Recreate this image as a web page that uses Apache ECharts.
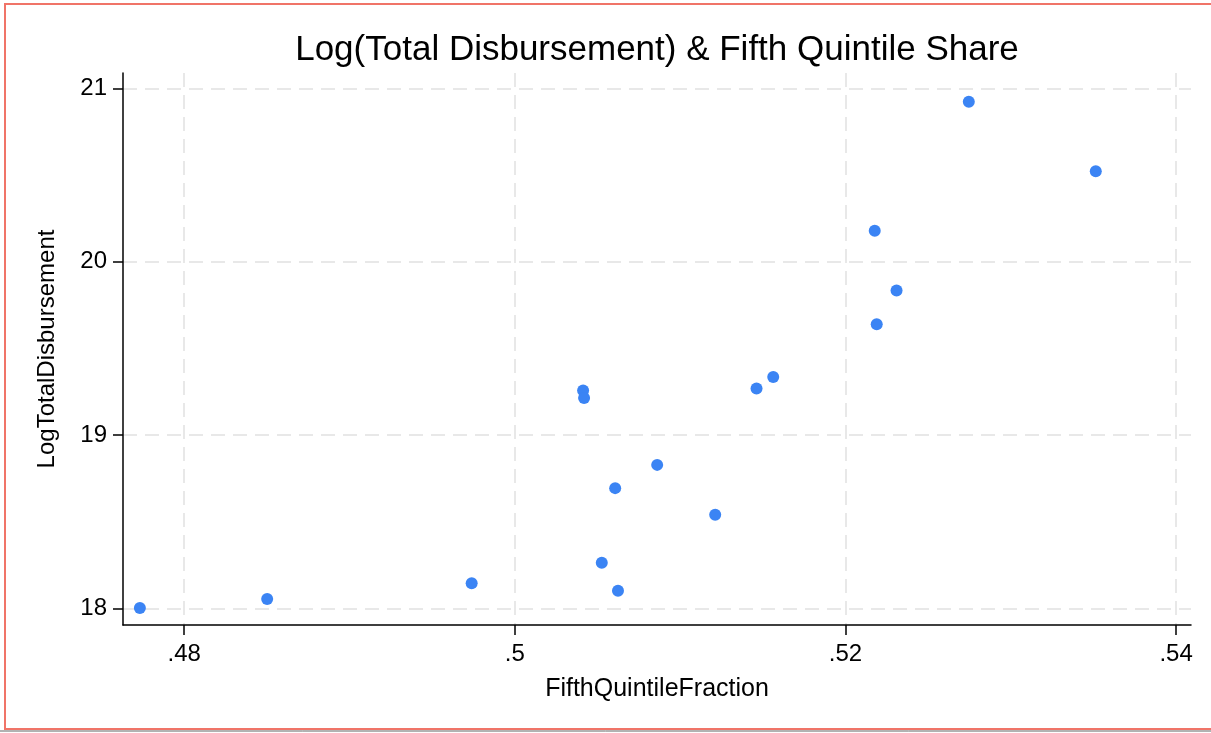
<!DOCTYPE html>
<html>
<head>
<meta charset="utf-8">
<script src="https://cdn.jsdelivr.net/npm/echarts@6/dist/echarts.min.js"></script>
<style>
  html, body { margin: 0; padding: 0; background: #ffffff; }
  #chart { width: 1211px; height: 733px; }
</style>
</head>
<body>
<div id="chart"></div>
<script>
// ---- data ----
const fifthQuintileFraction = [0.47732, 0.48502, 0.49739, 0.50624, 0.50526, 0.51212, 0.50607, 0.50861, 0.50413, 0.50419, 0.51462, 0.51563, 0.52746, 0.53514, 0.52177, 0.52309, 0.52189];
const logTotalDisbursement = [18.004, 18.056, 18.147, 18.104, 18.265, 18.541, 18.695, 18.829, 19.258, 19.214, 19.269, 19.335, 20.922, 20.521, 20.179, 19.834, 19.640];
const xTicks = [0.48, 0.50, 0.52, 0.54];
const xTickLabels = ['.48', '.5', '.52', '.54'];
const yTicks = [18, 19, 20, 21];
const yTickLabels = ['18', '19', '20', '21'];
const titleText = 'Log(Total Disbursement) & Fifth Quintile Share';
const xName = 'FifthQuintileFraction';
const yName = 'LogTotalDisbursement';

const points = fifthQuintileFraction.map((x, i) => [x, logTotalDisbursement[i]]);
const FONT = '"Liberation Sans", Arial, Helvetica, sans-serif';

const chart = echarts.init(document.getElementById('chart'), null, { renderer: 'canvas' });
const gridStyle = { show: true, lineStyle: { color: '#e8e8e8', width: 2, type: [14, 8] } };

chart.setOption({
  animation: false,
  backgroundColor: '#ffffff',
  title: {
    text: titleText,
    left: 657,
    top: 33,
    padding: 0,
    textAlign: 'center',
    textStyle: { fontFamily: FONT, fontSize: 35, fontWeight: 'normal', color: '#000' }
  },
  grid: { left: 123, right: 20, top: 73, bottom: 108, containLabel: false },
  xAxis: {
    type: 'value',
    min: 0.4763,
    max: 0.5409,
    name: xName,
    nameLocation: 'middle',
    nameGap: 52,
    nameTextStyle: { fontFamily: FONT, fontSize: 25, color: '#000', verticalAlign: 'top' },
    axisLine: { show: true, onZero: false, lineStyle: { color: '#000', width: 1.5 } },
    axisTick: { show: true, length: 10, customValues: xTicks, lineStyle: { color: '#000', width: 1.5 } },
    axisLabel: {
      customValues: xTicks,
      margin: 17,
      fontFamily: FONT, fontSize: 24, color: '#000',
      formatter: v => { const i = xTicks.findIndex(t => Math.abs(t - v) < 1e-9); return i >= 0 ? xTickLabels[i] : ''; }
    },
    splitLine: gridStyle
  },
  yAxis: {
    type: 'value',
    min: 17.906,
    max: 21.088,
    name: yName,
    nameLocation: 'middle',
    nameGap: 64,
    nameTextStyle: { fontFamily: FONT, fontSize: 24, color: '#000' },
    axisLine: { show: true, onZero: false, lineStyle: { color: '#000', width: 1.5 } },
    axisTick: { show: true, length: 10, customValues: yTicks, lineStyle: { color: '#000', width: 1.5 } },
    axisLabel: {
      customValues: yTicks,
      margin: 16,
      fontFamily: FONT, fontSize: 24, color: '#000',
      formatter: v => { const i = yTicks.findIndex(t => Math.abs(t - v) < 1e-9); return i >= 0 ? yTickLabels[i] : ''; }
    },
    splitLine: gridStyle
  },
  series: [{
    type: 'scatter',
    data: points,
    symbol: 'circle',
    symbolSize: 12,
    itemStyle: { color: '#3b84f4', opacity: 1 }
  }],
  graphic: [
    { type: 'rect', silent: true, z: 100,
      shape: { x: 5, y: 4, width: 1212, height: 725 },
      style: { fill: null, stroke: '#f07468', lineWidth: 2 } },
    { type: 'line', silent: true, z: 100,
      shape: { x1: 0, y1: 731, x2: 1211, y2: 731 },
      style: { stroke: '#666666', lineWidth: 1 } }
  ]
});
</script>
</body>
</html>
